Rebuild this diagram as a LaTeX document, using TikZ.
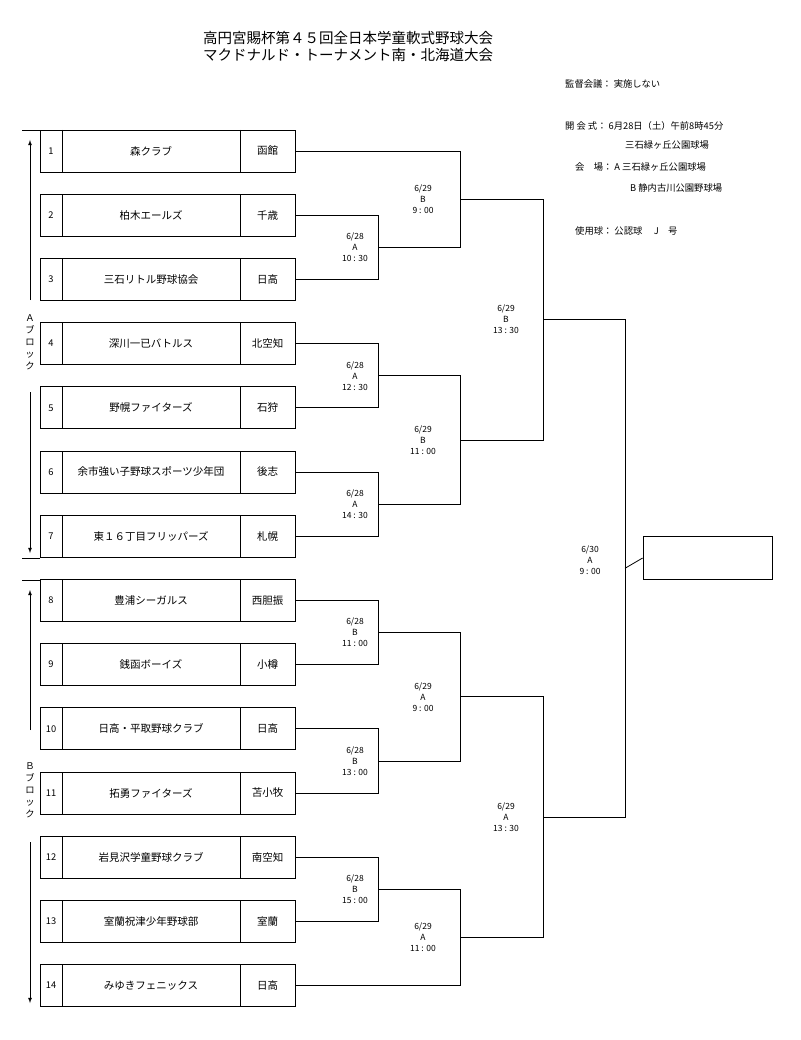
\documentclass[tikz,border=0pt]{standalone}
\usepackage{fontspec}
\setmainfont{Noto Sans CJK JP}
\usetikzlibrary{calc}
\begin{document}
\begin{tikzpicture}[x=1pt,y=-1pt,
  ln/.style={line width=0.8pt},
  lab/.style={font=\fontsize{8.5}{11}\selectfont,align=center,inner sep=0pt},
  txt/.style={font=\fontsize{9.3}{12}\selectfont,inner sep=0pt},
  bx/.style={font=\fontsize{10.5}{13}\selectfont,inner sep=0pt},
  >=latex]
\useasboundingbox (0,0) rectangle (800,1040);
\node[font=\fontsize{14.5}{17}\selectfont,inner sep=0pt] (t1) at (348,38) {高円宮賜杯第４５回全日本学童軟式野球大会};
\node[font=\fontsize{14.5}{17}\selectfont,inner sep=0pt] (t2) at (348,55) {マクドナルド・トーナメント南・北海道大会};
\node[txt,anchor=west] (i1) at (565,84) {監督会議： 実施しない};
\node[txt,anchor=west] (i2) at (565,126) {開 会 式： 6月28日（土）午前8時45分};
\node[txt,anchor=west] (i3) at (625,145) {三石緑ヶ丘公園球場};
\node[txt,anchor=west] (i4) at (575,167) {会　場：  A  三石緑ヶ丘公園球場};
\node[txt,anchor=west] (i5) at (630,188) {B  静内古川公園野球場};
\node[txt,anchor=west] (i6) at (575,231) {使用球： 公認球　 J　号};
% teams
\foreach \i/\n/\r in {1/森クラブ/函館,2/柏木エールズ/千歳,3/三石リトル野球協会/日高,4/深川一已バトルス/北空知,5/野幌ファイターズ/石狩,6/余市強い子野球スポーツ少年団/後志,7/東１６丁目フリッパーズ/札幌,8/豊浦シーガルス/西胆振,9/銭函ボーイズ/小樽,10/日高・平取野球クラブ/日高,11/拓勇ファイターズ/苫小牧,12/岩見沢学童野球クラブ/南空知,13/室蘭祝津少年野球部/室蘭,14/みゆきフェニックス/日高}{
  \pgfmathsetmacro\yy{151+(\i-1)*64.2}
  \draw[ln] (40,\yy-21) rectangle (295,\yy+21);
  \draw[ln] (62,\yy-21) -- (62,\yy+21) (240,\yy-21) -- (240,\yy+21);
  \node[txt] (n\i) at (51,\yy) {\i};
  \node[bx] (m\i) at (151,\yy) {\n};
  \node[bx] (r\i) at (267.5,\yy) {\r};
  \coordinate (e\i) at (295,\yy);
}
% block markers
\draw[ln] (22,130) -- (40,130) (22,558) -- (40,558) (22,580) -- (40,580);
\draw[ln,->] (30,300) -- (30,140);
\draw[ln,->] (30,392) -- (30,553);
\node[txt,align=center] (A) at (30,342) {Ａ\\ブ\\ロ\\ッ\\ク};
\draw[ln,->] (30,730) -- (30,590);
\draw[ln,->] (30,842) -- (30,1003);
\node[txt,align=center] (B) at (30,790) {Ｂ\\ブ\\ロ\\ッ\\ク};
% bracket macro: #1,#2 source coords, #3 x, #4 name, #5 label
\newcommand{\mjoin}[5]{%
  \draw[ln] (#1) -| (#3,0|-#1) -- (#3,0|-#2) -| (#2);
  \coordinate (#4) at ($(#3,0|-#1)!0.5!(#3,0|-#2)$);
  \node[lab,anchor=east] (#4l) at ($(#4)+(-8,0)$) {#5};
}
\newcommand{\mseg}[2]{\draw[ln] (#1) -- (#2,0|-#1);}
% round 1
\coordinate (s23) at (378,0);
\draw[ln] (e2) -| (378,0|-e3) -- (e3);
\draw[ln] (e2) -- (378,0|-e2) -- (378,0|-e3) -- (e3);
\foreach \a/\b/\nm/\l in {2/3/q1/{6/28\\A\\10 : 30},4/5/q2/{6/28\\A\\12 : 30},6/7/q3/{6/28\\A\\14 : 30},8/9/q4/{6/28\\B\\11 : 00},10/11/q5/{6/28\\B\\13 : 00},12/13/q6/{6/28\\B\\15 : 00}}{
  \draw[ln] (e\a) -- (378,0|-e\a) -- (378,0|-e\b) -- (e\b);
  \coordinate (\nm) at ($(378,0|-e\a)!0.5!(378,0|-e\b)$);
  \node[lab] (\nm l) at ($(\nm)+(-23,0)$) {\l};
}
% round 2 (x=460)
\foreach \a/\b/\nm/\l in {e1/q1/w1/{6/29\\B\\9 : 00},q2/q3/w2/{6/29\\B\\11 : 00},q4/q5/w3/{6/29\\A\\9 : 00},q6/e14/w4/{6/29\\A\\11 : 00}}{
  \draw[ln] (\a) -- (460,0|-\a) -- (460,0|-\b) -- (\b);
  \coordinate (\nm) at ($(460,0|-\a)!0.5!(460,0|-\b)$);
  \node[lab] (\nm l) at ($(\nm)+(-37,0)$) {\l};
}
% round 3 (x=543)
\foreach \a/\b/\nm/\l in {w1/w2/s1/{6/29\\B\\13 : 30},w3/w4/s2/{6/29\\A\\13 : 30}}{
  \draw[ln] (\a) -- (543,0|-\a) -- (543,0|-\b) -- (\b);
  \coordinate (\nm) at ($(543,0|-\a)!0.5!(543,0|-\b)$);
  \node[lab] (\nm l) at ($(\nm)+(-37,0)$) {\l};
}
% final
\draw[ln] (s1) -- (625,0|-s1) -- (625,0|-s2) -- (s2);
\coordinate (f) at ($(625,0|-s1)!0.5!(625,0|-s2)$);
\node[lab] (fl) at ($(f)+(-35,-8)$) {6/30\\A\\9 : 00};
\node[draw,ln,minimum width=129pt,minimum height=43pt,inner sep=0pt] (win) at (707.5,558) {};
\draw[ln] (f) -- (win.west);
\end{tikzpicture}
\end{document}
